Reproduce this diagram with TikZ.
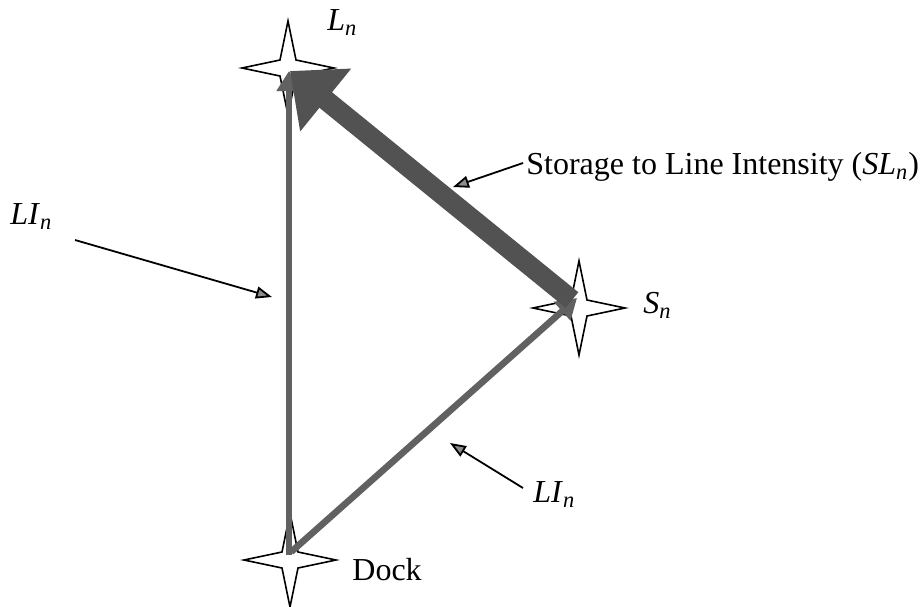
\documentclass[tikz,border=0pt]{standalone}
\usepackage{fontspec}
\setmainfont{Liberation Serif}
\usetikzlibrary{arrows.meta,calc}
\newcommand\lbsub[1]{\textsubscript{\textit{#1}}}
\begin{document}
\begin{tikzpicture}[x=0.5pt,y=-0.5pt, font=\fontsize{16}{19}\selectfont,
  starshape/.style={draw=black, fill=white, line width=0.8pt, line join=miter},
  lbl/.style={inner sep=0pt, anchor=base west},
  note/.style={draw=black, line width=0.9pt, -{Triangle[length=8pt,width=6pt,fill=black!45]}},
  thinflow/.style={line width=3.3pt, draw=black!62},
  thickflow/.style={line width=10pt, draw=black!68}]
\useasboundingbox (0,0) rectangle (922,606);
% star centres
\coordinate (L) at (288,68);
\coordinate (S) at (579,308);
\coordinate (D) at (290,560);
% stars
\foreach \c in {L,S,D}{
  \draw[starstyle/.style={}, starshape, shift={(\c)}] (0,-47) -- (8,-8) -- (46,0) -- (8,8) -- (0,47) -- (-8,8) -- (-46,0) -- (-8,-8) -- cycle;
}
% flows
\draw[thinflow, -{Triangle[length=10pt,width=12pt,fill=black!62]}] ($(D)+(-1,-5)$) -- ($(L)+(1,3)$);
\draw[thinflow, -{Triangle[length=10pt,width=12pt,fill=black!62]}] ($(D)+(1,-8)$) -- ($(S)+(-2,-10)$);
\draw[thickflow, -{Triangle[length=23pt,width=39pt,fill=black!68]}] ($(S)+(-7,-8)$) -- ($(L)+(2,3)$);
% labels
\node[lbl] (Ln) at (327,30) {\textit{L}\lbsub{n}};
\node[lbl] (Sn) at (643,313) {\textit{S}\lbsub{n}};
\node[lbl] (dock) at (352,580) {Dock};
\node[lbl] (LI1) at (10,224) {\textit{LI}\lbsub{n}};
\node[lbl] (LI2) at (533,502) {\textit{LI}\lbsub{n}};
\node[lbl] (SL) at (526,174) {Storage to Line Intensity (\textit{SL}\lbsub{n})};
% annotation arrows
\coordinate (a1s) at (75,240);  \coordinate (a1e) at (272,297);
\coordinate (a2s) at (523,163); \coordinate (a2e) at (453,187);
\coordinate (a3s) at (523,488); \coordinate (a3e) at (450,443);
\draw[note] (a1s) -- (a1e);
\draw[note] (a2s) -- (a2e);
\draw[note] (a3s) -- (a3e);
\end{tikzpicture}
\end{document}
